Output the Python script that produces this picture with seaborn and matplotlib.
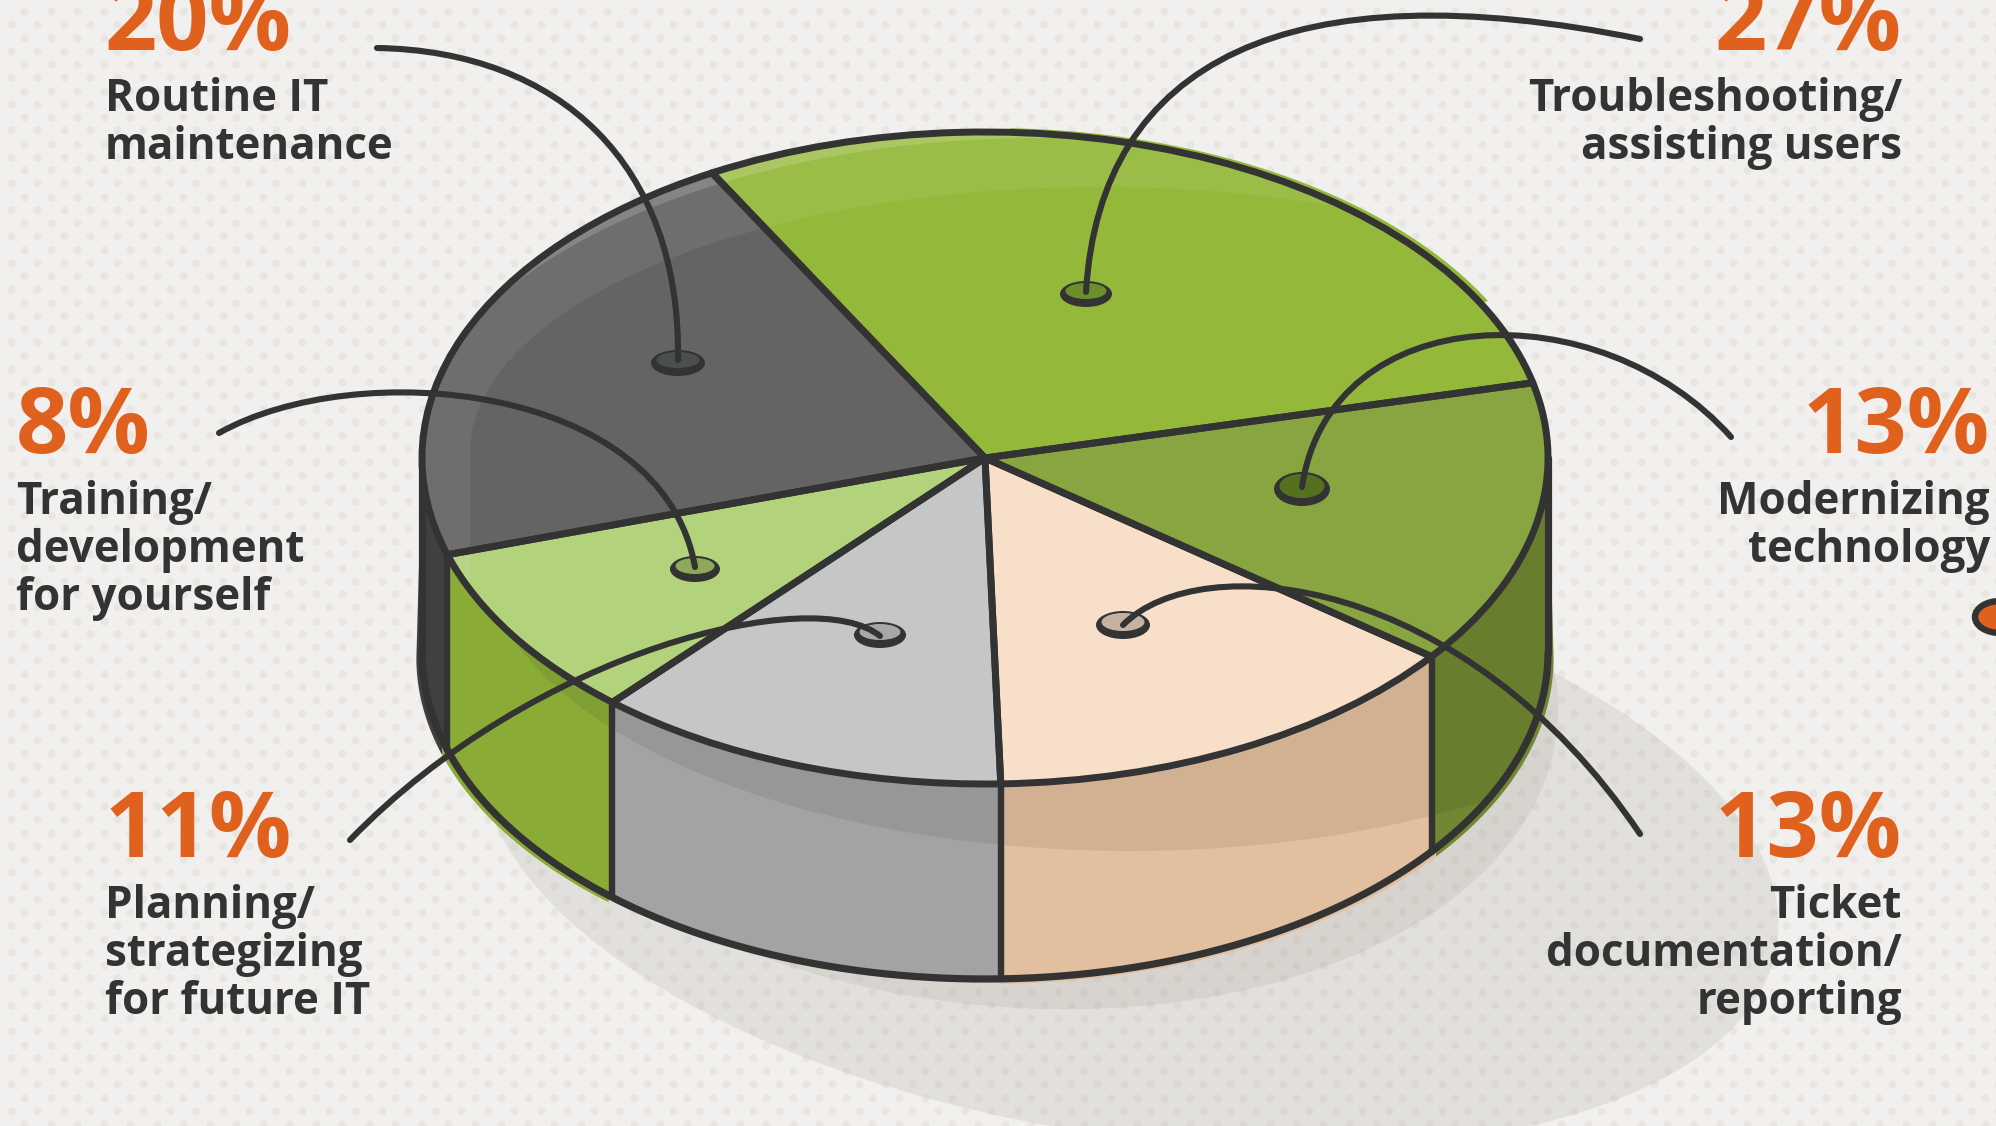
import numpy as np
import matplotlib
matplotlib.use("Agg")
import matplotlib.pyplot as plt
import seaborn as sns
from matplotlib.patches import Ellipse, Polygon, PathPatch
from matplotlib.path import Path
from matplotlib.transforms import Affine2D

# Data
categories = ["Troubleshooting/\nassisting users", "Modernizing\ntechnology", "Ticket\ndocumentation/\nreporting",
              "Planning/\nstrategizing\nfor future IT", "Training/\ndevelopment\nfor yourself", "Routine IT\nmaintenance"]
percents = [27, 13, 13, 11, 8, 20]
top_colors = ["#93b83a", "#88a541", "#f7dfc9", "#c5c6c8", "#b3d27c", "#646464"]
side_colors = ["#93b83a", "#728733", "#e2bf9f", "#a3a3a3", "#8aac37", "#404040"]
pin_colors = ["#6c8f2c", "#55701f", "#c4b3a3", "#a7a7a7", "#8fa85a", "#4b4f4e"]

INK = "#333333"
ORANGE = "#e0611e"
BG = "#f1f0ee"
W, H = 1996, 1126
cx, cy, rx, ry, depth = 985, 458, 563, 326, 195
start = 119

sns.set_theme(style="white")
plt.rcParams["font.family"] = ["Open Sans", "DejaVu Sans"]

fig = plt.figure(figsize=(W / 100, H / 100), dpi=100, facecolor=BG)
ax = fig.add_axes([0, 0, 1, 1])


def rim(t, dx=0, dy=0):
    t = np.radians(t)
    return np.column_stack([cx + dx + rx * np.cos(t), cy + dy - ry * np.sin(t)])


def reset_axes():
    ax.set_aspect("auto")
    ax.set_xlim(0, W)
    ax.set_ylim(H, 0)
    ax.axis("off")


# Dotted paper
gx, gy = np.meshgrid(np.arange(0, 76) * 26.5 + 11, np.arange(0, 43) * 26.5 + 24.3)
ax.scatter(gx.ravel(), gy.ravel(), s=33, c="#e9e6e1", lw=0, zorder=1)
gx, gy = np.meshgrid(np.arange(0, 76) * 26.5 + 24.3, np.arange(0, 43) * 26.5 + 11)
ax.scatter(gx.ravel(), gy.ravel(), s=33, c="#e9e6e1", lw=0, zorder=1)

# Ground shadows
ax.add_patch(Ellipse((1130, 843), 1310, 585, angle=9, fc="#8a8073", alpha=0.14, lw=0, zorder=2))
ax.add_patch(Ellipse((1005, 672), 1110, 668, angle=6, fc="#8a8073", alpha=0.12, lw=0, zorder=2))

# Slice angles, clockwise from the start angle
sweep = np.array(percents) / sum(percents) * 360
ends = start - np.cumsum(sweep)
begins = ends + sweep

# Side wall: only the part of each slice in the lower half shows
wall_t = np.linspace(180, 360, 240)
for b, e, color in zip(begins, ends, side_colors):
    t1, t2 = (e % 360), (b % 360)
    if t2 < t1:
        t2 += 360
    if t1 >= 180 and t2 <= 360:
        lo, hi = t1, t2
    elif t2 > 360:
        lo, hi = t1, 360
    elif t1 < 180 < t2:
        lo, hi = 180, t2
    else:
        continue
    tt = np.linspace(lo, hi, 80)
    if color != "#a3a3a3":
        # fill printed slightly past the outline
        ax.add_patch(Polygon(np.vstack([rim(tt), (rim(tt[::-1], 0, depth + 5) - [cx, 0]) * [1.01, 1] + [cx, 0]]),
                             fc=color, lw=0, zorder=3))
    ax.add_patch(Polygon(np.vstack([rim(tt), rim(tt[::-1], 0, depth)]), fc=color, ec="none", zorder=4))

# Shade below the top rim, only on the wall
wall = Polygon(np.vstack([rim(wall_t), rim(wall_t[::-1], 0, depth)]), fc="none", ec="none", zorder=5)
ax.add_patch(wall)
shade = Ellipse((1130, 542), 1300, 618, fc="black", alpha=0.07, lw=0, zorder=5)
ax.add_patch(shade)
shade.set_clip_path(wall)

# Wall outlines
for b in begins:
    t = b % 360
    if 180 <= t <= 360:
        ax.plot(*np.vstack([rim([t]), rim([t], 0, depth)]).T, color=INK, lw=4.6, zorder=6, solid_capstyle="round")
for t in [180, 360]:
    ax.plot(*np.vstack([rim([t]), rim([t], 0, depth)]).T, color=INK, lw=5.2, zorder=6)
ax.plot(*rim(wall_t, 0, depth).T, color=INK, lw=5.2, zorder=6, solid_capstyle="round")

# Print misregistration behind the big green slice
tt = np.linspace(28, 88, 60)
ax.add_patch(Polygon(np.vstack([[[cx, cy]], rim(tt, 6, -4)]), fc="#93b83a", lw=0, zorder=6))

# Top of the pie, stretched into an ellipse
to_rim = Affine2D().scale(rx, -ry).translate(cx, cy) + ax.transData
fills, _ = ax.pie(percents, colors=sns.color_palette(top_colors), startangle=start, counterclock=False,
                  radius=1, wedgeprops={"linewidth": 0, "zorder": 7})
for w in fills:
    w.set_transform(to_rim)
reset_axes()

# Gloss bands on the far side only
top = Ellipse((cx, cy), 2 * rx, 2 * ry, fc="none", ec="none", zorder=7)
ax.add_patch(top)
theta = np.linspace(2 * np.pi, np.pi, 200)
outer = Path([(-200, -200), (W + 200, -200), (W + 200, H + 200), (-200, H + 200), (-200, -200)])
for (ex, ey, ea, eb), alpha in [((1100, 453, 630, 266), 0.07), ((1040, 478, 640, 340), 0.16)]:
    # hole: upper half of an ellipse, open down to the bottom, wound against the outer box
    arc = np.column_stack([ex + ea * np.cos(theta), ey + eb * np.sin(theta)])
    hole = np.vstack([arc, [(ex - ea, H + 200), (ex + ea, H + 200), arc[0]]])
    band = PathPatch(Path.make_compound_path(outer, Path(hole)), fc="white", alpha=alpha, lw=0, zorder=8)
    ax.add_patch(band)
    band.set_clip_path(top)

lines, _ = ax.pie(percents, colors=sns.color_palette(top_colors), startangle=start, counterclock=False, radius=1,
                  wedgeprops={"facecolor": "none", "edgecolor": INK, "linewidth": 5, "zorder": 9, "joinstyle": "round"})
for w in lines:
    w.set_transform(to_rim)
reset_axes()

# Pins: dark ellipse with the fill pushed up, leaving a crescent below
pin_xy = [(1086, 294), (1302, 489), (1123, 625), (880, 635), (695, 569), (678, 363)]
pin_size = [(52, 26), (56, 34), (54, 28), (52, 26), (50, 26), (54, 26)]
for (px, py), (pw, ph), color in zip(pin_xy, pin_size, pin_colors):
    ax.add_patch(Ellipse((px, py), pw, ph, fc=INK, lw=0, zorder=10))
    ax.add_patch(Ellipse((px, py - 3), pw - 11, ph - 10, fc=color, lw=0, zorder=10))

# Leader lines
leaders = [
    [(1640, 39), (1290, -32), (1100, 60), (1086, 292)],
    [(1731, 437), (1600, 290), (1330, 298), (1302, 487)],
    [(1640, 834), (1464, 573), (1200, 547), (1123, 625)],
    [(350, 840), (535, 649), (815, 583), (880, 636)],
    [(219, 433), (356, 356), (662, 382), (695, 567)],
    [(377, 48), (560, 51), (681, 165), (678, 360)],
]
codes = [Path.MOVETO, Path.CURVE4, Path.CURVE4, Path.CURVE4]
for pts in leaders:
    ax.add_patch(PathPatch(Path(pts, codes), fc="none", ec=INK, lw=4.4, capstyle="round", zorder=11))

# Labels
label_pos = [(1902, 50, "right"), (1990, 453, "right"), (1902, 857, "right"),
             (105, 857, "left"), (16, 453, "left"), (105, 50, "left")]
for cat, pct, (x, y, ha) in zip(categories, percents, label_pos):
    ax.text(x, y, f"{pct}%", color=ORANGE, fontsize=66, fontweight="bold", ha=ha, va="baseline", zorder=12)
    for i, line in enumerate(cat.split("\n")):
        ax.text(x, y + 61 + i * 48, line, color=INK, fontsize=31.6, fontweight="bold", ha=ha, va="baseline", zorder=12)

# Marker cut off at the right edge
ax.add_patch(Ellipse((2000, 617), 50, 32, fc=ORANGE, ec=INK, lw=4.6, zorder=12))

reset_axes()
fig.savefig("out.png", dpi=100, facecolor=BG)
